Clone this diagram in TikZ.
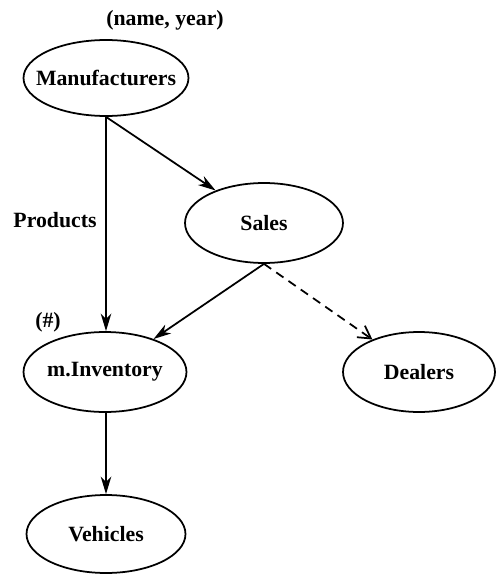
\documentclass[tikz,border=0pt]{standalone}
\usepackage{fontspec}
\newfontfamily\labelfont{Liberation Serif}
\usetikzlibrary{shapes.geometric,arrows.meta}
% entity names take no width, so each ellipse keeps the size it is given
\newcommand{\entname}[1]{\makebox[0pt]{#1}}
\begin{document}
\begin{tikzpicture}[x=0.02cm,y=-0.02cm,
  entity/.style={ellipse,draw,line width=1pt,inner sep=0pt,font=\labelfont\fontsize{12.4}{14}\selectfont\bfseries},
  rel/.style={line width=1pt,-{Stealth[length=10pt,width=6pt,inset=3pt]}},
  weak/.style={line width=1pt,dashed,dash pattern=on 5pt off 3.5pt,-{Straight Barb[length=7pt,width=8pt]}},
  note/.style={font=\labelfont\fontsize{12.4}{14}\selectfont\bfseries}]
\useasboundingbox (0,0) rectangle (497,578);
\node[entity,minimum width=3.3cm,minimum height=1.52cm] (man) at (106,78) {\entname{Manufacturers}};
\node[entity,minimum width=3.16cm,minimum height=1.6cm] (sales) at (264,223) {\entname{Sales}};
\node[entity,minimum width=3.26cm,minimum height=1.6cm] (inv) at (105,372) {\entname{m.Inventory}};
\node[entity,minimum width=3.04cm,minimum height=1.6cm] (deal) at (419,372) {\entname{Dealers}};
\node[entity,minimum width=3.18cm,minimum height=1.56cm] (veh) at (106,534) {\entname{Vehicles}};
\node[note] (key) at (165,20) {(name, year)};
\node[note] (prod) at (55,220) {Products};
\node[note] (hash) at (48,322) {(\#)};
\draw[rel] (man.south) -- (man.south |- inv.north);
\draw[rel] (man.south) -- (sales);
\draw[rel] (sales.south) -- (inv);
\draw[weak] (sales.south) -- (deal);
\draw[rel] (man.south |- inv.south) -- (man.south |- veh.north);
\end{tikzpicture}
\end{document}
